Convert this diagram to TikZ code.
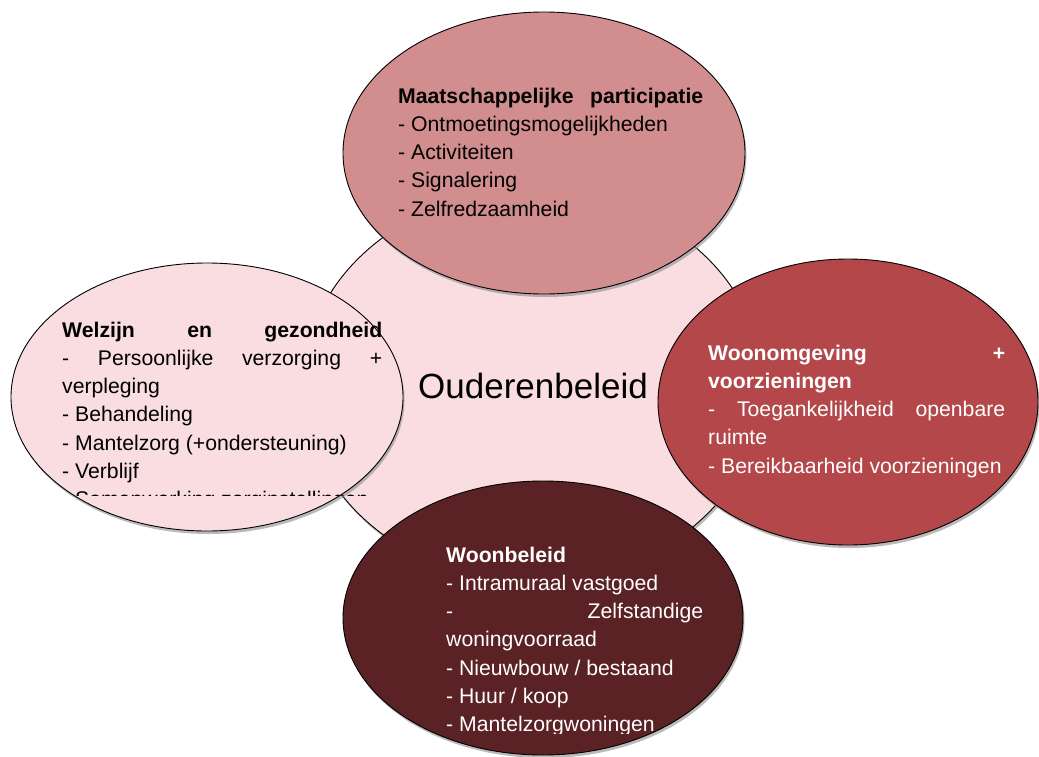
\documentclass[tikz,border=0pt]{standalone}
\usepackage{fontspec}
\setmainfont{Liberation Sans}
\usetikzlibrary{shapes.geometric,shadows}
\definecolor{cPale}{HTML}{F9DDE0}
\definecolor{cRose}{HTML}{D28E8E}
\definecolor{cRed}{HTML}{B3474A}
\definecolor{cDark}{HTML}{5A2224}
\newcommand\txtblock[1]{\vtop{\baselineskip=28.3pt\lineskiplimit=-50pt\lineskip=0pt #1}}
\begin{document}
\begin{tikzpicture}[x=1pt,y=-1pt,
  blob/.style={ellipse, draw=black, line width=0.9pt, inner sep=0pt,
    drop shadow={shadow xshift=1.5pt, shadow yshift=-3pt, fill=black!45, opacity=0.6}},
  body/.style={anchor=base west, inner sep=0pt, font=\fontsize{21.2pt}{28.3pt}\selectfont}]
\useasboundingbox (0,0) rectangle (1039,756);
% centre
\node[blob, fill=cPale, minimum width=460pt, minimum height=392pt,
  font=\fontsize{35pt}{40pt}\selectfont] (ctr) at (533,386) {Ouderenbeleid};
% satellites
\node[blob, fill=cRose, minimum width=402pt, minimum height=282pt] (top) at (544,153) {};
\node[blob, fill=cPale, minimum width=392pt, minimum height=268pt] (lft) at (207,397) {};
\node[blob, fill=cRed, minimum width=380pt, minimum height=286pt] (rgt) at (848,402) {};
\node[blob, fill=cDark, minimum width=400pt, minimum height=274pt] (bot) at (543,618) {};
% texts
\node[body] (tTop) at (398,103) {\txtblock{%
  \hbox to 305pt{\bfseries Maatschappelijke\hfill participatie}%
  \hbox{- Ontmoetingsmogelijkheden}%
  \hbox{- Activiteiten}%
  \hbox{- Signalering}%
  \hbox{- Zelfredzaamheid}}};
\begin{scope}
\clip (0,0) rectangle (1039,495);
\node[body] (tLft) at (62,337) {\txtblock{%
  \hbox to 320pt{\bfseries Welzijn\hfill en\hfill gezondheid}%
  \hbox to 320pt{-\hfill Persoonlijke\hfill verzorging\hfill +}%
  \hbox{verpleging}%
  \hbox{- Behandeling}%
  \hbox{- Mantelzorg (+ondersteuning)}%
  \hbox{- Verblijf}%
  \hbox{- Samenwerking zorginstellingen}}};
\end{scope}
\node[body, text=white] (tRgt) at (708,360) {\txtblock{%
  \hbox to 297pt{\bfseries Woonomgeving\hfill +}%
  \hbox{\bfseries voorzieningen}%
  \hbox to 297pt{-\hfill Toegankelijkheid\hfill openbare}%
  \hbox{ruimte}%
  \hbox{- Bereikbaarheid voorzieningen}}};
\begin{scope}
\clip (0,0) rectangle (1039,733.5);
\node[body, text=white] (tBot) at (446,562) {\txtblock{%
  \hbox{\bfseries Woonbeleid}%
  \hbox{- Intramuraal vastgoed}%
  \hbox to 257pt{-\hfill Zelfstandige}%
  \hbox{woningvoorraad}%
  \hbox{- Nieuwbouw / bestaand}%
  \hbox{- Huur / koop}%
  \hbox{- Mantelzorgwoningen}}};
\end{scope}
\end{tikzpicture}
\end{document}
